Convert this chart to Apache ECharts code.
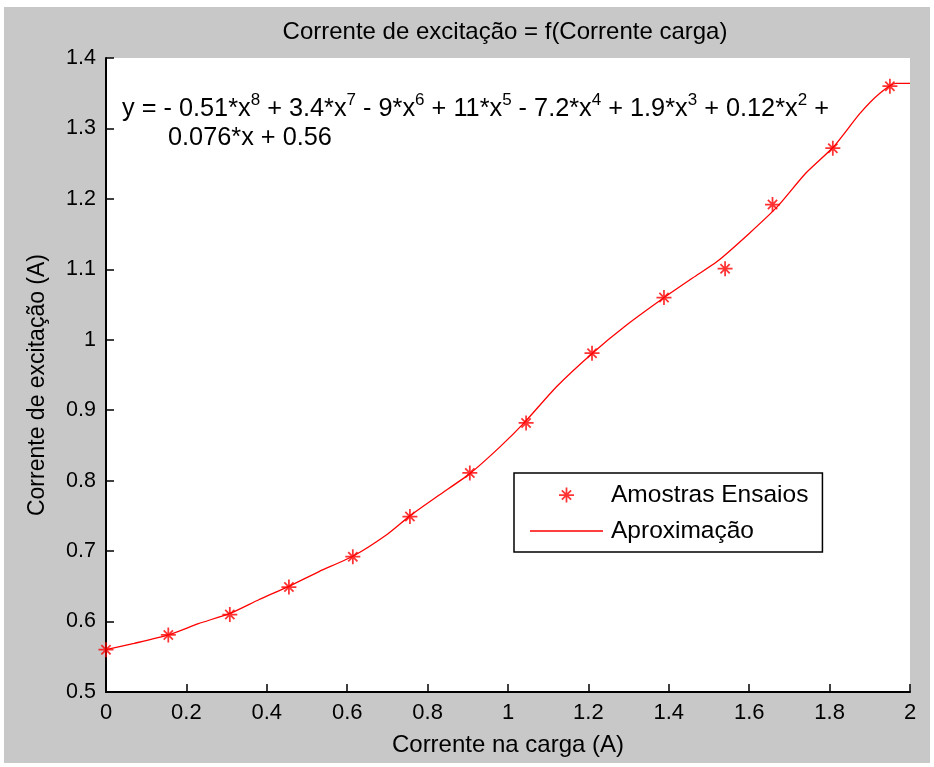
<!DOCTYPE html>
<html>
<head>
<meta charset="utf-8">
<script src="https://cdn.jsdelivr.net/npm/echarts@6/dist/echarts.min.js"></script>
<style>
html,body{margin:0;padding:0;background:#ffffff;}
#bg{position:absolute;left:4px;top:7px;width:926px;height:756px;background:#c8c8c8;}
#chart{position:absolute;left:0;top:0;width:934px;height:767px;}
</style>
</head>
<body>
<div id="bg"></div>
<div id="chart"></div>
<script>
// Measured samples (Amostras Ensaios)
const sampleX = [0, 0.155, 0.308, 0.455, 0.614, 0.756, 0.905, 1.045, 1.209, 1.388, 1.54, 1.658, 1.808, 1.95];
const sampleY = [0.560, 0.581, 0.610, 0.649, 0.692, 0.749, 0.811, 0.882, 0.981, 1.060, 1.101, 1.192, 1.272, 1.360];
// Fitted curve (Aproximação)
const curveX = [0, 0.07, 0.155, 0.23, 0.31, 0.38, 0.455, 0.53, 0.615, 0.70, 0.756, 0.83, 0.905, 0.98, 1.04, 1.12, 1.21, 1.295, 1.386, 1.46, 1.52, 1.60, 1.67, 1.74, 1.81, 1.875, 1.925, 1.965, 2.0];
const curveY = [0.560, 0.569, 0.581, 0.597, 0.612, 0.631, 0.650, 0.671, 0.693, 0.724, 0.750, 0.780, 0.810, 0.848, 0.882, 0.933, 0.981, 1.021, 1.059, 1.088, 1.111, 1.151, 1.189, 1.236, 1.274, 1.321, 1.350, 1.364, 1.364];

const titleText = 'Corrente de excitação = f(Corrente carga)';
const xName = 'Corrente na carga (A)';
const yName = 'Corrente de excitação (A)';
const seriesNames = ['Amostras Ensaios', 'Aproximação'];
const eqLine1 = [['y = - 0.51*x','8'],[' + 3.4*x','7'],[' - 9*x','6'],[' + 11*x','5'],[' - 7.2*x','4'],[' + 1.9*x','3'],[' + 0.12*x','2'],[' +','']];
const eqLine2 = '0.076*x + 0.56';

const FONT = '"Liberation Sans", Arial, Helvetica, sans-serif';
const star = 'path://M10.6,0 L13.4,0 L13.4,24 L10.6,24 Z M0,10.6 L24,10.6 L24,13.4 L0,13.4 Z M3.6,5.6 L5.6,3.6 L20.4,18.4 L18.4,20.4 Z M18.4,3.6 L20.4,5.6 L5.6,20.4 L3.6,18.4 Z';
const lineIcon = 'path://M0,0 L100,0 L100,1.8 L0,1.8 Z';

function richLine(parts){
  let s = '';
  parts.forEach(p => { s += '{b|' + p[0] + '}'; if (p[1]) s += '{s|' + p[1] + '}'; });
  return s;
}

const chart = echarts.init(document.getElementById('chart'), null, {renderer:'canvas'});
chart.setOption({
  backgroundColor: 'transparent',
  animation: false,
  title: {
    text: titleText, left: 500, top: 15, textAlign: 'center',
    textStyle: {fontFamily: FONT, fontSize: 24, fontWeight: 'normal', color: '#000'}
  },
  grid: {left: 106, right: 24, top: 58, bottom: 75, show: true, backgroundColor: '#ffffff', borderWidth: 0},
  legend: {
    orient: 'vertical', left: 514, top: 473,
    data: [{name: seriesNames[0]}, {name: seriesNames[1], icon: lineIcon}],
    itemWidth: 73, itemHeight: 15, itemGap: 10,
    padding: [9, 14, 8, 16],
    backgroundColor: '#ffffff', borderColor: '#000', borderWidth: 1.5, borderRadius: 0,
    textStyle: {fontFamily: FONT, fontSize: 24.5, color: '#000', lineHeight: 26, padding: [0, 0, 0, 3]},
    selectedMode: false
  },
  xAxis: {
    type: 'value', min: 0, max: 2, interval: 0.2,
    name: xName, nameLocation: 'middle', nameGap: 41,
    nameTextStyle: {fontFamily: FONT, fontSize: 24, color: '#000'},
    axisLine: {lineStyle: {color: '#000', width: 2}},
    axisTick: {inside: true, length: 8, lineStyle: {color: '#000', width: 1.5}},
    axisLabel: {fontFamily: FONT, fontSize: 22, color: '#000', margin: 10},
    splitLine: {show: false}
  },
  yAxis: {
    type: 'value', min: 0.5, max: 1.4, interval: 0.1,
    name: yName, nameLocation: 'middle', nameGap: 57, nameRotate: 90,
    nameTextStyle: {fontFamily: FONT, fontSize: 23, color: '#000', padding: [0, 20, 0, 0]},
    axisLine: {show: true, lineStyle: {color: '#000', width: 2}},
    axisTick: {show: true, inside: true, length: 8, lineStyle: {color: '#000', width: 1.5}},
    axisLabel: {fontFamily: FONT, fontSize: 21.5, color: '#000', margin: 10,
      formatter: v => String(Math.round(v * 10) / 10)},
    splitLine: {show: false}
  },
  graphic: [
    {type: 'text', left: 122, top: 92, z: 100, style: {
      text: richLine(eqLine1), fill: '#000',
      rich: {
        b: {fontFamily: FONT, fontSize: 25.3, lineHeight: 28, verticalAlign: 'bottom', fill: '#000'},
        s: {fontFamily: FONT, fontSize: 17, lineHeight: 17, padding: [0, 0, 13, 0], verticalAlign: 'bottom', fill: '#000'}
      }
    }},
    {type: 'text', left: 168, top: 126, z: 100, style: {
      text: eqLine2, fill: '#000', font: '25.3px ' + FONT
    }}
  ],
  series: [
    {
      name: seriesNames[0], type: 'scatter',
      data: sampleX.map((x, i) => [x, sampleY[i]]),
      symbol: star, symbolSize: 15,
      itemStyle: {color: '#ff0000'}, z: 3
    },
    {
      name: seriesNames[1], type: 'line',
      data: curveX.map((x, i) => [x, curveY[i]]),
      symbol: 'none', smooth: 0.2,
      lineStyle: {color: '#ff0000', width: 1.3},
      itemStyle: {color: '#ff0000'}, z: 2
    }
  ]
});
</script>
</body>
</html>
